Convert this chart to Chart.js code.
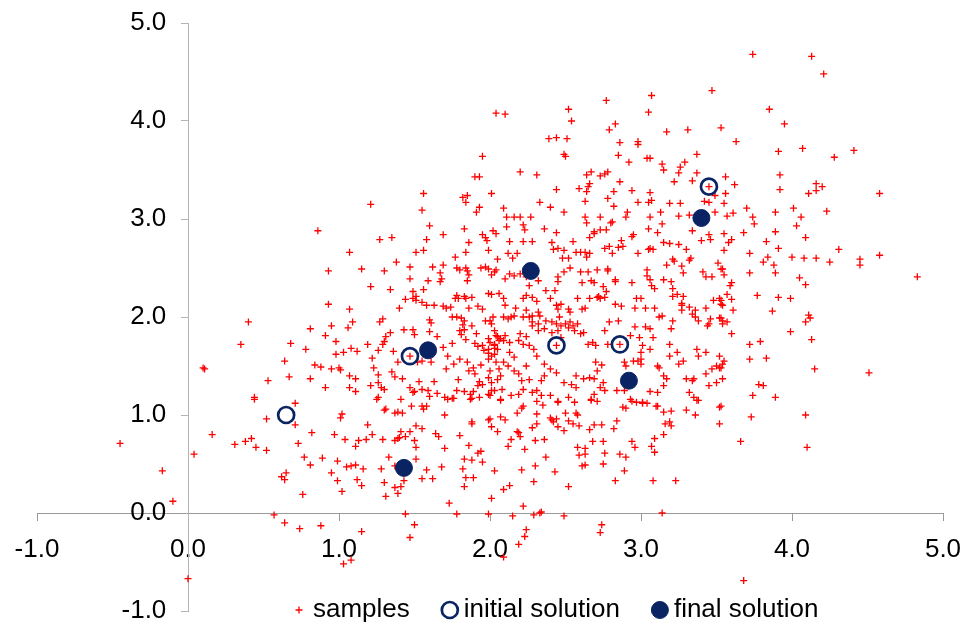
<!DOCTYPE html>
<html>
<head>
<meta charset="utf-8">
<script src="https://cdn.jsdelivr.net/npm/chart.js@4.4.1/dist/chart.umd.min.js"></script>
<style>
  html, body { margin: 0; padding: 0; background: #fff; }
  #wrap { width: 965px; height: 624px; }
</style>
</head>
<body>
<div id="wrap"><canvas id="chart" width="965" height="624"></canvas></div>
<script>
const samples = [
  [2.04,4.08],[1.95,3.64],[1.90,3.43],[1.93,3.43],[1.56,3.26],[2.01,3.26],[1.21,3.15],[1.55,3.09],[1.82,3.22],[1.85,3.24],[1.84,3.17],[1.93,3.12],[1.91,3.07],
  [3.47,4.31],[3.07,4.26],[2.77,4.21],[2.10,4.07],[2.52,4.12],[2.54,4.00],[3.05,4.09],[3.53,3.93],[2.83,3.97],[2.79,3.91],[3.17,3.89],[3.31,3.91],[2.39,3.82],[2.44,3.83],[2.51,3.82],[2.86,3.78],[2.98,3.79],[2.98,3.76],[2.49,3.66],[2.50,3.64],[2.85,3.65],[2.92,3.58],[3.04,3.62],[3.06,3.62],[3.14,3.56],[3.15,3.50],[3.26,3.53],[3.29,3.58],[3.25,3.47],[3.37,3.66],[3.37,3.47],[3.34,3.39],[3.22,3.38],[3.56,3.43],[3.56,3.26],[3.45,3.33],[2.20,3.48],[2.31,3.45],[2.64,3.45],[2.67,3.48],[2.73,3.44],[2.76,3.46],[2.78,3.48],[2.86,3.38],[2.66,3.36],[2.65,3.33],[2.64,3.28],[2.59,3.31],[2.44,3.30],[2.82,3.28],[2.94,3.29],[3.06,3.27],[2.33,3.17],[2.40,3.12],[2.63,3.18],[2.78,3.21],[2.82,3.13],[2.98,3.17],[3.05,3.17],[3.07,3.19],[3.19,3.16],[3.26,3.16],[3.42,3.18],[3.45,3.17],[3.55,3.16],[3.49,3.24],[2.09,3.11],[2.49,3.07],[2.91,3.07],[3.13,3.07],[3.32,3.04],[3.49,3.07],[2.11,3.02],[2.16,3.02],[2.20,3.02],[2.27,3.02],[2.63,3.02],[2.73,3.02],[2.90,3.02],[3.06,3.02],[3.25,3.03],
  [3.74,4.68],[4.13,4.66],[4.21,4.48],[3.85,4.12],[3.95,3.97],[3.63,3.79],[3.91,3.69],[4.07,3.72],[4.28,3.63],[4.41,3.70],[3.62,3.35],[3.92,3.45],[3.92,3.30],[4.11,3.26],[4.16,3.36],[4.16,3.29],[4.20,3.33],[4.58,3.26],[3.61,3.06],[3.70,3.11],[3.89,3.07],[4.01,3.11],[4.23,3.08],[3.74,3.02],[4.06,3.02],
  [3.75,2.95],[4.03,2.93],[3.55,2.85],[3.68,2.86],[3.89,2.87],[3.58,2.76],[3.60,2.79],[3.83,2.77],[4.09,2.81],[3.55,2.68],[3.91,2.70],[3.72,2.65],[3.84,2.61],[3.81,2.56],[3.88,2.53],[4.00,2.61],[4.08,2.60],[4.16,2.60],[4.31,2.69],[4.25,2.56],[4.45,2.59],[4.45,2.53],[4.58,2.63],[4.83,2.41],[3.53,2.49],[3.55,2.43],[3.72,2.45],[3.89,2.45],[4.05,2.40],[4.09,2.33],[3.60,2.35],[3.59,2.32],[3.57,2.23],[3.77,2.22],[3.91,2.20],[3.99,2.19],[3.53,2.17],[3.53,2.13],[3.60,2.18],[3.61,2.07],[3.87,2.06],[4.11,2.02],[4.12,1.99],[4.09,1.95],[3.53,1.99],[3.54,1.96],[3.60,1.83],[3.72,1.72],[3.79,1.75],[3.99,1.85],[4.13,1.77],[3.55,1.55],[3.53,1.48],[3.72,1.57],[3.83,1.58],[4.15,1.47],[4.51,1.43],[3.78,1.31],[3.81,1.30],[3.74,1.20],[3.89,1.18],[3.53,1.09],
  [3.73,0.98],[4.09,1.00],[3.66,0.73],[4.10,0.67],[3.68,-0.69],
  [2.07,1.15],[2.31,1.14],[2.35,1.10],[2.45,1.13],[2.71,1.14],[2.67,1.15],[2.94,1.14],[2.88,1.08],[2.90,1.07],[3.01,1.12],[3.04,1.12],[3.10,1.09],[3.11,1.09],[3.15,1.03],[3.20,1.04],[3.30,1.05],[3.36,1.00],[3.37,1.15],[3.52,1.08],[3.52,0.91],[3.16,0.91],[3.19,0.93],[3.20,0.89],[3.15,0.80],[3.09,0.76],[3.07,0.68],[3.09,0.62],[3.23,0.33],[3.08,0.33],[3.14,0.00],[2.84,0.94],[2.82,0.86],[2.94,0.73],[2.96,0.67],[2.86,0.60],[2.90,0.57],[2.89,0.43],[2.83,0.33],[2.74,0.90],[2.69,0.90],[2.66,0.85],[2.68,0.73],[2.75,0.73],[2.58,0.67],[2.63,0.66],[2.63,0.60],[2.59,0.59],[2.76,0.61],[2.75,0.50],[2.61,0.48],[2.63,0.49],[2.52,0.27],[2.43,0.42],[2.37,0.57],[2.30,0.48],[2.29,0.32],[2.21,0.44],[2.23,0.65],[2.30,0.74],[2.36,0.75],[2.12,0.68],[2.14,0.75],[2.03,0.43],[2.09,0.24],[2.13,0.28],[2.01,0.15],[2.22,0.07],[2.15,-0.03],[2.29,-0.02],[2.33,0.00],[2.34,0.01],[2.49,-0.03],[2.24,-0.17],[2.23,-0.24],[2.19,-0.32],[2.09,-0.45],[2.74,-0.12],[2.73,-0.20],[2.18,0.83],[2.19,0.82],[2.20,0.78],[2.05,0.83],[2.01,0.88],[2.07,0.98],[2.10,0.95],[2.18,1.02],[2.21,1.07],[2.22,1.09],[2.31,1.01],[2.31,0.91],[2.28,0.87],[2.41,0.95],[2.42,0.93],[2.44,0.96],[2.40,0.97],[2.45,0.88],[2.49,0.84],[2.50,1.02],[2.57,1.02],[2.58,1.00],[2.52,0.94],[2.55,0.91],[2.59,0.89],[2.00,0.96],
  [0.71,1.12],[0.52,0.96],[0.71,0.90],[0.82,0.82],[0.73,0.71],[0.52,0.64],[0.77,0.57],[0.81,0.49],[0.89,0.56],[0.62,0.37],[0.65,0.41],[0.64,0.34],[0.76,0.19],[0.57,-0.02],[0.64,-0.10],[0.74,-0.16],[0.88,-0.13],[1.15,-0.19],[1.03,-0.52],[1.08,-0.48],[1.01,0.97],[1.02,1.01],[0.97,0.80],[1.04,0.75],[0.99,0.53],[0.95,0.41],[0.99,0.33],[1.02,0.22],[1.05,0.47],[1.08,0.48],[1.11,0.49],[1.16,0.45],[1.12,0.34],[1.15,0.28],[1.11,0.68],[1.13,0.74],[1.18,0.75],[1.22,0.80],[1.19,0.90],[1.29,0.75],[1.31,1.06],[1.28,0.45],[1.30,0.31],[1.31,0.17],[1.33,0.57],[1.37,0.74],[1.39,0.76],[1.37,0.26],[1.41,0.27],[1.39,0.20],[1.44,-0.01],[1.50,-0.12],[1.47,-0.25],[1.37,0.48],[1.43,0.33],[1.51,0.55],[1.55,0.35],[1.58,0.44],[1.62,0.35],[1.51,0.67],[1.50,0.74],[1.55,0.86],[1.51,0.89],[1.47,0.83],[1.41,0.83],[1.44,0.78],[1.40,0.77],[1.30,1.05],[1.37,1.02],[1.39,1.03],[1.42,1.02],[1.48,1.09],[1.55,1.09],[1.56,1.06],[1.58,1.09],[1.70,1.00],[1.64,0.81],[1.66,0.78],[1.70,0.66],[1.68,0.47],[1.73,0.10],[1.78,-0.01],[1.80,0.79],[1.86,0.69],[1.88,0.93],[1.88,0.91],[1.83,0.55],[1.88,0.54],[1.92,0.61],[1.94,0.63],[1.95,0.52],[1.82,0.45],[1.84,0.36],[1.89,0.36],[1.83,0.27],[1.99,-0.01],[1.99,0.95],[1.25,1.16],[1.87,1.16],
  [-0.45,0.71],[-0.17,0.43],[-0.10,0.12],[0.00,-0.67],[0.04,0.60],[0.16,0.80],[0.31,0.70],[0.38,0.73],[0.42,0.76],[0.45,0.67],[0.44,1.16],
  [0.40,1.95],[0.35,1.72],[0.10,1.48],[0.11,1.47],[0.53,1.35],[0.44,1.18],
  [0.86,2.88],[1.60,2.93],[1.69,2.84],[1.83,2.90],[1.95,2.84],[1.97,2.81],[1.98,2.78],[2.02,2.88],[2.04,2.85],[1.27,2.79],[1.35,2.81],[1.58,2.79],[1.86,2.76],[1.07,2.66],[1.51,2.66],[1.56,2.68],[1.84,2.66],[1.99,2.68],[1.77,2.61],[2.05,2.59],[1.38,2.56],[1.47,2.51],[1.62,2.51],[1.69,2.53],[1.78,2.50],[1.80,2.48],[1.84,2.50],[1.85,2.47],[1.94,2.50],[1.97,2.51],[1.99,2.49],[2.03,2.46],[2.04,2.48],[2.01,2.43],[0.93,2.47],[1.15,2.49],[1.30,2.47],[1.67,2.45],[1.68,2.39],[1.67,2.36],[1.47,2.39],[1.59,2.37],[1.85,2.37],[1.86,2.43],[1.21,2.31],[1.34,2.28],[1.49,2.26],[1.56,2.28],[0.93,2.13],[1.07,2.08],[1.40,2.09],[1.44,2.18],[1.49,2.19],[1.51,2.21],[1.51,2.17],[1.55,2.15],[1.58,2.12],[1.63,2.12],[1.69,2.11],[1.71,2.09],[1.74,2.10],[1.78,2.22],[1.79,2.19],[1.77,2.19],[1.83,2.21],[1.88,2.20],[1.84,2.19],[1.99,2.24],[2.01,2.23],[2.06,2.24],[1.86,2.09],[1.92,2.11],[1.95,2.08],
  [0.81,1.88],[0.95,1.91],[1.06,1.89],[1.09,1.95],[0.91,1.81],[1.27,1.95],[1.29,1.98],[1.31,1.80],[1.34,1.84],[1.43,1.87],[1.49,1.87],[1.50,1.82],[1.60,1.97],[1.61,1.94],[1.60,1.85],[1.65,1.80],[1.69,1.69],[1.75,2.00],[1.78,2.00],[1.81,1.99],[1.83,1.96],[1.82,1.92],[1.80,1.86],[1.81,1.82],[1.83,1.87],[1.88,1.91],[1.84,1.77],[1.91,1.83],[1.90,1.73],[1.92,1.70],[1.95,1.71],[1.96,1.66],[1.99,1.63],[1.99,1.78],[2.03,1.72],[2.05,1.80],[2.06,1.76],[1.97,1.96],[2.00,1.96],[2.02,2.00],
  [0.68,1.73],[0.78,1.67],[0.64,1.55],[0.67,1.39],[0.84,1.51],[0.88,1.49],[0.95,1.47],[1.00,1.48],[1.01,1.46],[0.81,1.37],[0.91,1.28],[0.98,1.75],[0.98,1.62],[1.03,1.64],[1.08,1.68],[1.12,1.65],[1.19,1.72],[1.26,1.66],[1.29,1.72],[1.30,1.75],[1.22,1.58],[1.23,1.48],[1.07,1.40],[1.11,1.37],[1.07,1.28],[1.11,1.24],[1.21,1.30],[1.26,1.41],[1.26,1.33],[1.28,1.28],[1.30,1.26],[1.36,1.65],[1.39,1.54],[1.35,1.44],[1.37,1.39],[1.42,1.37],[1.47,1.60],[1.55,1.55],[1.61,1.54],[1.52,1.54],[1.53,1.34],[1.63,1.34],[1.50,1.24],[1.47,1.28],[1.59,1.25],[1.65,1.22],[1.60,1.19],[1.71,1.47],[1.72,1.60],[1.76,1.52],[1.75,1.73],[1.79,1.36],[1.80,1.57],[1.85,1.54],[1.86,1.45],[1.89,1.48],[1.90,1.42],[1.94,1.51],[1.99,1.57],[2.03,1.62],[1.93,1.34],[1.95,1.31],[1.92,1.30],[1.99,1.38],[2.05,1.36],[2.06,1.47],[1.78,1.25],[1.83,1.24],[1.87,1.21],[1.89,1.24],[1.88,1.17],[1.70,1.18],[1.72,1.16],[1.75,1.17],[1.76,1.17],[1.55,1.26],[1.49,1.23],[1.41,1.16],[1.26,1.18],[1.93,1.18],[1.99,1.21],[2.01,1.25],[1.99,1.67],[2.03,1.68],
  [2.64,2.96],[2.80,2.96],[2.81,2.97],[3.14,2.95],[3.34,2.88],[3.57,3.03],[2.11,2.92],[2.22,2.94],[2.23,2.89],[2.36,2.90],[2.44,2.86],[2.69,2.87],[2.73,2.89],[2.77,2.89],[2.66,2.81],[2.69,2.85],[2.95,2.84],[2.94,2.82],[3.05,2.90],[3.11,2.86],[3.15,2.76],[3.19,2.75],[3.25,2.74],[3.30,2.69],[3.40,2.78],[3.45,2.84],[3.46,2.79],[2.13,2.77],[2.22,2.77],[2.28,2.77],[2.12,2.65],[2.15,2.60],[2.18,2.65],[2.41,2.76],[2.42,2.69],[2.45,2.70],[2.49,2.68],[2.48,2.60],[2.52,2.60],[2.55,2.77],[2.57,2.66],[2.60,2.66],[2.63,2.66],[2.66,2.65],[2.64,2.61],[2.76,2.70],[2.79,2.72],[2.81,2.65],[2.85,2.71],[2.87,2.78],[2.88,2.72],[2.98,2.65],[3.05,2.69],[3.06,2.70],[3.08,2.69],[3.17,2.53],[3.21,2.59],[3.22,2.57],[3.27,2.52],[3.28,2.45],[3.32,2.58],[3.33,2.60],[3.51,2.55],[3.54,2.49],[3.47,2.41],[3.43,2.41],[3.41,2.46],
  [2.10,2.39],[2.13,2.44],[2.16,2.42],[2.20,2.44],[2.24,2.41],[2.26,2.32],[2.32,2.37],[2.37,2.27],[2.43,2.27],[2.45,2.36],[2.45,2.41],[2.49,2.46],[2.53,2.50],[2.60,2.46],[2.65,2.46],[2.71,2.48],[2.78,2.47],[2.78,2.49],[2.61,2.35],[2.67,2.37],[2.69,2.35],[2.83,2.38],[2.83,2.36],[2.94,2.35],[3.04,2.48],[3.04,2.42],[3.06,2.38],[3.07,2.32],[3.09,2.29],[3.15,2.38],[3.20,2.36],[3.21,2.29],[3.21,2.21],[3.24,2.23],[3.28,2.21],[3.27,2.14],[3.27,2.12],[3.32,2.10],[3.36,2.07],[3.34,2.03],[3.38,1.96],[3.43,2.09],[3.48,2.17],[3.52,2.19],[3.54,2.12],[3.52,1.99],[3.45,1.93],[3.36,2.00],
  [2.09,2.19],[2.10,2.12],[2.17,2.09],[2.22,2.19],[2.24,2.22],[2.28,2.20],[2.31,2.16],[2.16,2.01],[2.22,2.00],[2.24,2.07],[2.28,2.01],[2.32,2.05],[2.33,2.01],[2.40,2.19],[2.44,2.12],[2.45,2.08],[2.47,2.13],[2.52,2.08],[2.53,2.05],[2.58,2.19],[2.61,2.08],[2.63,2.09],[2.66,2.19],[2.71,2.20],[2.73,2.19],[2.76,2.20],[2.77,2.26],[2.75,2.31],[2.72,2.21],[2.83,2.13],[2.87,2.11],[2.96,2.09],[2.97,2.19],[3.00,2.19],[3.03,2.09],[3.09,2.09],[3.12,2.00],[3.14,2.01],[3.20,1.88],[3.21,1.96],[3.27,2.07],
  [2.01,1.93],[2.09,2.00],[2.12,1.98],[2.14,2.00],[2.03,1.86],[2.04,1.81],[2.07,1.78],[2.10,1.81],[2.09,1.76],[2.13,1.74],[2.19,1.76],[2.20,1.83],[2.24,1.80],[2.26,2.00],[2.28,1.95],[2.28,1.91],[2.32,1.93],[2.37,1.96],[2.41,1.95],[2.44,1.93],[2.46,2.00],[2.47,1.91],[2.50,1.93],[2.53,1.95],[2.32,1.86],[2.36,1.88],[2.41,1.84],[2.45,1.86],[2.47,1.79],[2.44,1.71],[2.52,1.89],[2.55,1.91],[2.58,1.93],[2.56,1.86],[2.60,1.83],[2.62,1.84],[2.65,1.72],[2.68,1.74],[2.70,1.71],[2.76,1.86],[2.79,1.95],[2.85,1.96],[2.78,1.72],[2.86,1.72],[2.93,1.81],[2.96,1.90],[2.99,1.79],[3.03,1.90],[3.06,1.88],[3.08,1.79],[3.01,1.71],[3.06,1.67],[3.00,1.64],[2.98,1.55],[3.00,1.52],[3.19,1.72],[3.25,1.52],[3.11,1.50],[3.15,1.40],[3.17,1.37],[3.12,1.48],[3.37,1.67],[3.38,1.60],[3.44,1.91],[3.46,1.98],[3.54,1.93],[3.57,1.95],[3.43,1.42],[3.47,1.47],[3.50,1.50],[3.52,1.48],[3.54,1.52],[3.30,1.37],[3.34,1.35],[3.35,1.37],[3.32,1.23],[3.35,1.18],[3.38,1.15],
  [2.89,1.54],[2.90,1.50],[2.95,1.55],[3.00,1.57],[2.84,1.25],[2.89,1.25],[2.93,1.16],[2.97,1.13],[3.01,1.13],[3.06,1.24],[3.11,1.23],[3.15,1.30],[2.70,1.54],[2.74,1.51],[2.71,1.45],[2.66,1.38],[2.69,1.37],[2.57,1.40],[2.62,1.37],[2.54,1.31],[2.57,1.28],[2.49,1.33],[2.75,1.33],[2.73,1.28],[2.76,1.25],[2.69,1.21],[2.67,1.16],[2.52,1.18],[2.56,1.13],[2.45,1.14],[2.40,1.20],[2.34,1.20],[2.31,1.25],[2.36,1.52],[2.40,1.47],[2.44,1.43],[2.36,1.40],[2.34,1.35],[2.22,1.72],[2.26,1.71],[2.29,1.67],[2.31,1.60],[2.24,1.50],[2.16,1.59],[2.13,1.64],[2.09,1.54],[2.12,1.50],[2.16,1.45],[2.19,1.42],[2.07,1.40],[2.21,1.35],[2.26,1.36],[2.22,1.26],[2.28,1.23],[2.19,1.21],[2.14,1.20],[2.08,1.26],[2.07,1.16],[2.00,1.74],[2.03,1.71],[2.05,1.67],[2.01,1.60],[2.04,1.54],[2.00,1.45],[2.01,1.33],[2.03,1.25],[2.00,1.20],[3.19,1.60],[3.24,1.64],[3.28,1.55],[3.43,1.64],[3.52,1.60],[3.45,1.30],[3.50,1.33],[3.54,1.37]
];
const initialSolution = [[0.65,1.00],[1.47,1.60],[2.44,1.71],[2.86,1.72],[3.45,3.33]];
const finalSolution = [[1.43,0.46],[1.59,1.66],[2.27,2.47],[2.92,1.35],[3.40,3.01]];
const seriesNames = ['samples', 'initial solution', 'final solution'];
const axisMin = -1, axisMax = 5;

const navy = '#0a2463';
const fontFamily = '"Liberation Sans", Arial, Helvetica, sans-serif';
const toXY = arr => arr.map(p => ({x: p[0], y: p[1]}));

// legend drawn under the plot, like the original ..............................
const bottomLegend = {
  id: 'bottomLegend',
  afterDraw(chart){
    const ctx = chart.ctx;
    const y = 610;
    let x = 299;
    ctx.save();
    ctx.font = '26px ' + fontFamily;
    ctx.textBaseline = 'middle';
    chart.data.datasets.forEach(function(ds){
      ctx.lineWidth = ds.borderWidth;
      ctx.strokeStyle = ds.borderColor;
      ctx.fillStyle = ds.backgroundColor;
      if(ds.pointStyle === 'cross'){
        ctx.beginPath();
        ctx.moveTo(x - 3.5, y); ctx.lineTo(x + 3.5, y);
        ctx.moveTo(x, y - 3.5); ctx.lineTo(x, y + 3.5);
        ctx.stroke();
      } else {
        ctx.beginPath();
        ctx.arc(x, y, ds.pointRadius, 0, Math.PI * 2);
        ctx.fill();
        ctx.stroke();
      }
      ctx.fillStyle = '#000';
      ctx.fillText(ds.label, x + 14, y);
      x += 14 + ctx.measureText(ds.label).width + 40;
    });
    ctx.restore();
  }
};

// axes sit in the middle of the plot, so they must not eat layout room
const noPadding = function(scale){
  scale.paddingLeft = 0; scale.paddingRight = 0;
  scale.paddingTop = 0; scale.paddingBottom = 0;
};

const ctx = document.getElementById('chart');

new Chart(ctx, {
  type: 'scatter',
  data: {
    datasets: [{
      label: seriesNames[0],
      data: toXY(samples),
      pointStyle: 'cross',
      pointRadius: 3.5,
      borderColor: '#ff0000',
      backgroundColor: '#ff0000',
      borderWidth: 1.3,
      order: 3
    }, {
      label: seriesNames[1],
      data: toXY(initialSolution),
      pointStyle: 'circle',
      pointRadius: 8,
      borderColor: navy,
      backgroundColor: 'rgba(255,255,255,0)',
      borderWidth: 2.7,
      order: 2
    }, {
      label: seriesNames[2],
      data: toXY(finalSolution),
      pointStyle: 'circle',
      pointRadius: 8.5,
      borderColor: navy,
      backgroundColor: navy,
      borderWidth: 1,
      order: 1
    }]
  },
  options: {
    responsive: false,
    animation: false,
    events: [],
    layout: { padding: {left: 37, right: 22, top: 23, bottom: 13} },
    plugins: {
      legend: { display: false },
      tooltip: { enabled: false }
    },
    scales: {
      x: {
        type: 'linear',
        min: axisMin, max: axisMax,
        position: {y: 0},
        afterFit: noPadding,
        border: { display: true, color: '#9a9a9a', width: 1 },
        grid: { drawOnChartArea: false, drawTicks: true, tickLength: 7, color: '#9a9a9a' },
        ticks: {
          stepSize: 1, autoSkip: false, maxRotation: 0,
          color: '#000',
          // tall line box pushes the labels a little further below the axis
          font: {family: fontFamily, size: 26, lineHeight: 2.05},
          callback: v => v.toFixed(1)
        }
      },
      y: {
        type: 'linear',
        min: axisMin, max: axisMax,
        position: {x: 0},
        afterFit: noPadding,
        border: { display: true, color: '#b4b4b4', width: 1 },
        grid: { drawOnChartArea: false, drawTicks: true, tickLength: 7, color: '#b4b4b4' },
        ticks: {
          stepSize: 1, autoSkip: false,
          color: '#000',
          font: {family: fontFamily, size: 26},
          // trailing blanks keep the right-aligned labels clear of the axis
          callback: v => v.toFixed(1) + '   '
        }
      }
    }
  },
  plugins: [bottomLegend]
});
</script>
</body>
</html>
